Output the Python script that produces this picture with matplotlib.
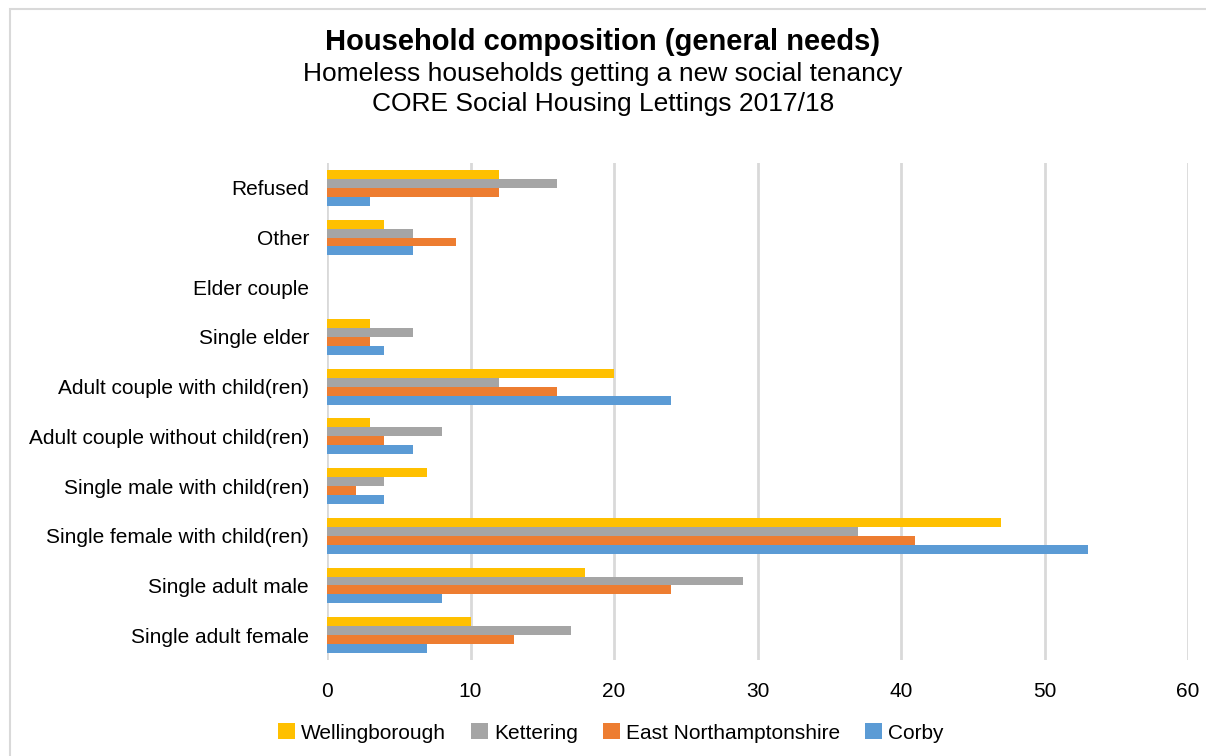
import matplotlib.pyplot as plt
import numpy as np
from matplotlib.patches import Rectangle

plt.rcParams['font.family'] = ['Liberation Sans', 'DejaVu Sans']

categories = ["Single adult female", "Single adult male", "Single female with child(ren)",
              "Single male with child(ren)", "Adult couple without child(ren)",
              "Adult couple with child(ren)", "Single elder", "Elder couple", "Other", "Refused"]
series = ["Wellingborough", "Kettering", "East Northamptonshire", "Corby"]
wellingborough = [10, 18, 47, 7, 3, 20, 3, 0, 4, 12]
kettering = [17, 29, 37, 4, 8, 12, 6, 0, 6, 16]
east_northants = [13, 24, 41, 2, 4, 16, 3, 0, 9, 12]
corby = [7, 8, 53, 4, 6, 24, 4, 0, 6, 3]
colors = ["#FFC000", "#A5A5A5", "#ED7D31", "#5B9BD5"]

fig = plt.figure(figsize=(12.06, 7.56), dpi=100)
ax = fig.add_axes([327 / 1206, 1 - 660 / 756, (1188 - 327) / 1206, (660 - 163) / 756])

y = np.arange(len(categories))
h = 0.18
values = [wellingborough, kettering, east_northants, corby]
for i, (name, vals, c) in enumerate(zip(series, values, colors)):
    ax.barh(y + (1.5 - i) * h, vals, height=h, color=c, label=name, zorder=3)

ax.set_ylim(-0.5, len(categories) - 0.5)
ax.set_xlim(0, 60)
ax.set_xticks(range(0, 61, 10))
ax.set_yticks(y)
ax.set_yticklabels(categories)
ax.tick_params(axis='both', length=0, labelsize=15, colors='#000000')
ax.tick_params(axis='x', pad=16)
ax.tick_params(axis='y', pad=13)
ax.grid(axis='x', color='#D9D9D9', linewidth=2, zorder=0)
for s in ax.spines.values():
    s.set_visible(False)

fig.text(0.5, 1 - 42 / 756, "Household composition (general needs)", ha='center', va='center',
         fontsize=21, fontweight='bold')
fig.text(0.5, 1 - 74 / 756, "Homeless households getting a new social tenancy", ha='center',
         va='center', fontsize=19)
fig.text(0.5, 1 - 104 / 756, "CORE Social Housing Lettings 2017/18", ha='center', va='center',
         fontsize=19)

fig.legend(loc='center', bbox_to_anchor=(611 / 1206, 1 - 733 / 756), ncol=4, frameon=False,
           fontsize=15, handlelength=0.8, handleheight=0.8, handletextpad=0.3, columnspacing=1.2)

fig.patches.append(Rectangle((10 / 1206, -0.01), 1.1, 1 - 9 / 756 + 0.01, transform=fig.transFigure,
                             fill=False, edgecolor='#D9D9D9', linewidth=1.5))

fig.savefig("out.png", dpi=100)
